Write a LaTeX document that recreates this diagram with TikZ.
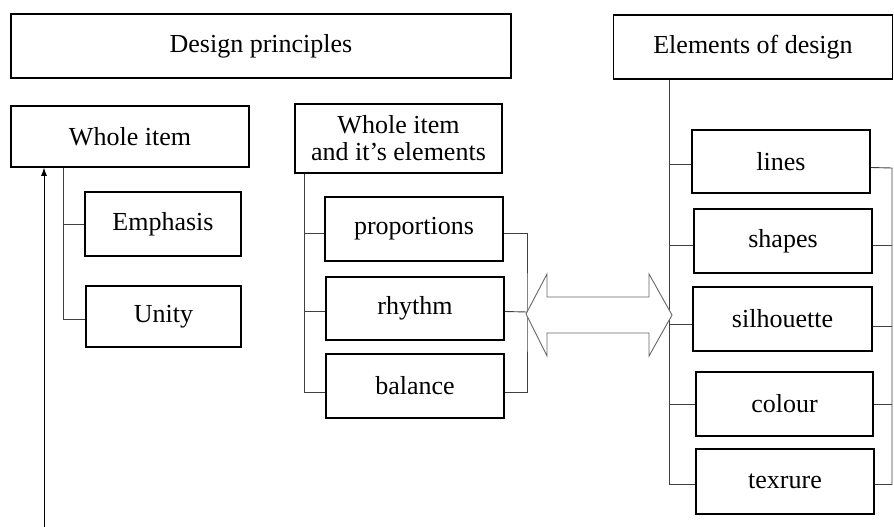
\documentclass[tikz,border=0pt]{standalone}
\usepackage{fontspec}
\setmainfont{Liberation Serif}
\usetikzlibrary{arrows.meta}
\begin{document}
\begin{tikzpicture}[x=1pt,y=-1pt,
  box/.style={draw=black,line width=1.5pt,inner sep=0pt,align=center,
    font=\fontsize{26}{27}\selectfont},
  conn/.style={draw=black!75,line width=0.9pt},
  bigarrow/.style={draw=black!60,line width=0.9pt,fill=white}]
\useasboundingbox (0,0) rectangle (894,527);
% top headers
\node[box,minimum width=500pt,minimum height=64pt] (dp) at (261,46) {Design principles};
\node[box,minimum width=279pt,minimum height=64pt] (ed) at (753,47) {Elements of design};
% left group
\node[box,minimum width=238pt,minimum height=61pt] (wi) at (130,136.5) {Whole item};
\node[box,minimum width=156pt,minimum height=64pt] (em) at (163,224) {Emphasis};
\node[box,minimum width=155pt,minimum height=61pt] (un) at (163.5,316.5) {Unity};
% middle group
\node[box,minimum width=207pt,minimum height=69pt] (wie) at (398.5,138.5) {Whole item\\and it’s elements};
\node[box,minimum width=178pt,minimum height=64pt] (pr) at (414,229) {proportions};
\node[box,minimum width=178pt,minimum height=63pt] (rh) at (415,308.5) {rhythm};
\node[box,minimum width=178pt,minimum height=64pt] (ba) at (415,386) {balance};
% right group
\node[box,minimum width=178pt,minimum height=63pt] (li) at (781,161.5) {lines};
\node[box,minimum width=178pt,minimum height=64pt] (sh) at (783,241) {shapes};
\node[box,minimum width=179pt,minimum height=64pt] (si) at (782.5,319) {silhouette};
\node[box,minimum width=177pt,minimum height=64pt] (co) at (784.5,404) {colour};
\node[box,minimum width=178pt,minimum height=65pt] (te) at (785,481.5) {texrure};
% left tree
\draw[conn] ([xshift=53pt]wi.south west) |- (em.west);
\draw[conn] ([xshift=53pt]wi.south west) |- ([yshift=-3pt]un.west);
% middle tree
\draw[conn] ([xshift=10pt]wie.south west) |- ([yshift=-4pt]pr.west);
\draw[conn] ([xshift=10pt]wie.south west) |- ([yshift=-3pt]rh.west);
\draw[conn] ([xshift=10pt]wie.south west) |- ([yshift=-6pt]ba.west);
% middle bracket
\coordinate (mb) at (527,312);
\draw[conn] ([yshift=-4pt]pr.east) -| (mb) |- ([yshift=-6pt]ba.east);
\draw[conn] ([yshift=-3pt]rh.east) -- (mb);
% right tree
\draw[conn] ([xshift=57pt]ed.south west) |- ([yshift=-3pt]li.west);
\draw[conn] ([xshift=57pt]ed.south west) |- ([yshift=-4pt]sh.west);
\draw[conn] ([xshift=57pt]ed.south west) |- ([yshift=-5pt]si.west);
\draw[conn] ([xshift=57pt]ed.south west) |- (co.west);
\draw[conn] ([xshift=57pt]ed.south west) |- ([yshift=-3pt]te.west);
% right bracket
\coordinate (rb) at (892,168);
\draw[conn] ([yshift=-6pt]li.east) -- (rb) |- ([yshift=-3pt]te.east);
\draw[conn] ([yshift=-4pt]sh.east) coordinate (sha) -- (sha -| rb);
\draw[conn] ([yshift=-7pt]si.east) coordinate (sia) -- (sia -| rb);
\draw[conn] (co.east) -- (co.east -| rb);
% double arrow
\draw[bigarrow] (526,314) -- (547,274) -- (547,297) -- (649,297) -- (649,274)
  -- (672,315) -- (649,356) -- (649,333) -- (547,333) -- (547,356) -- cycle;
% feedback arrow
\coordinate (bot) at (44,527);
\draw[conn,draw=black,-{Latex[length=8pt,width=6pt]}] (bot) -- (bot |- wi.south);
\end{tikzpicture}
\end{document}
